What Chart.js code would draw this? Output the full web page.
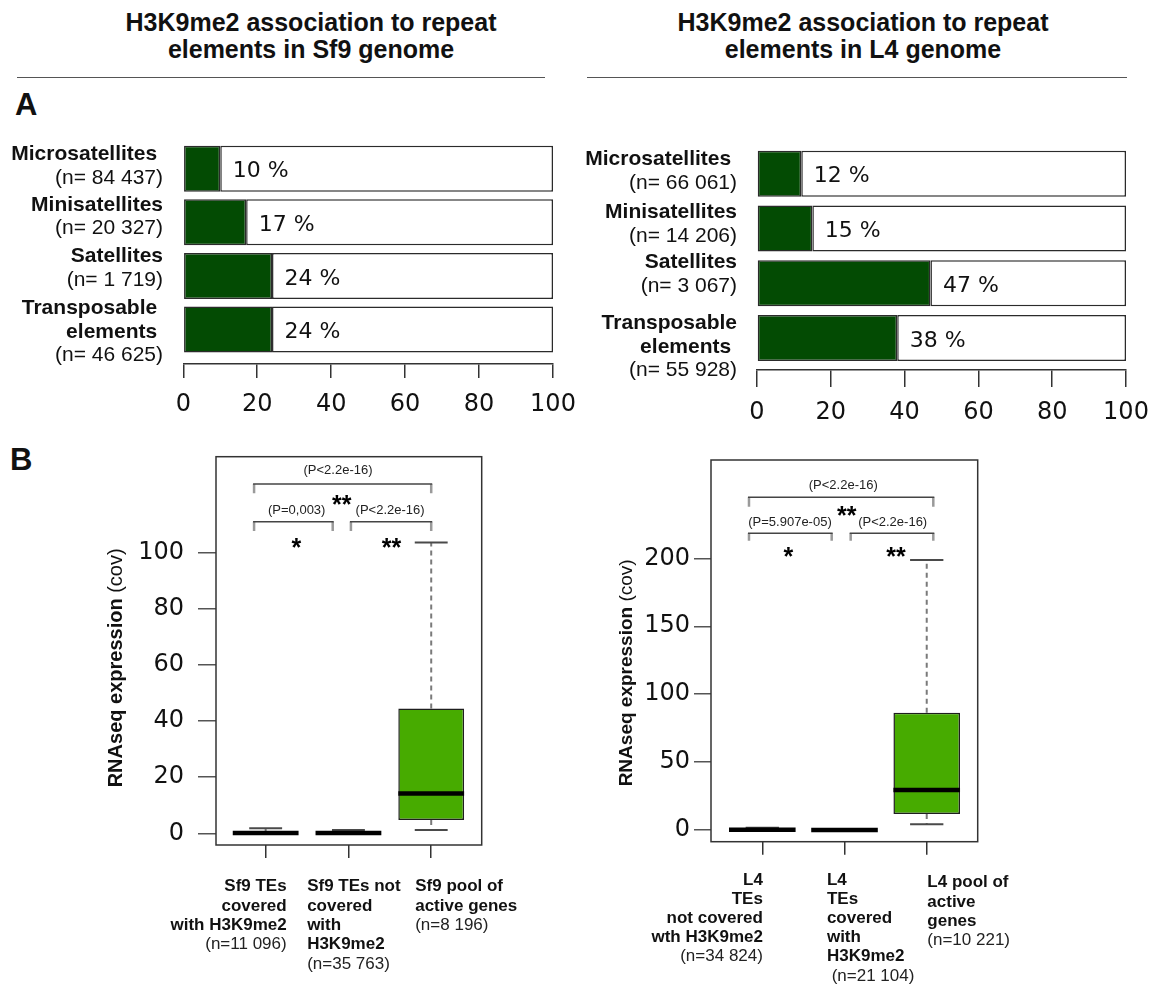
<!DOCTYPE html>
<html><head><meta charset="utf-8">
<script src="https://cdn.jsdelivr.net/npm/chart.js@4.4.0/dist/chart.umd.min.js"></script>
<style>
html,body{margin:0;padding:0;background:#fff;}
#page{position:relative;width:1150px;height:985px;overflow:hidden;font-family:"Liberation Sans",Arial,sans-serif;color:#111;}
canvas{position:absolute;}
.title{position:absolute;width:560px;font-weight:bold;font-size:25px;line-height:27px;text-align:center;}
.rule{position:absolute;height:0;border-top:1.5px solid #555;}
.panel{position:absolute;font-weight:bold;font-size:31px;line-height:31px;}
</style></head>
<body><div id="page">
<div class="title" style="left:31px;top:9px;">H3K9me2 association to repeat<br>elements in Sf9 genome</div>
<div class="title" style="left:583px;top:9px;">H3K9me2 association to repeat<br>elements in L4 genome</div>
<div class="rule" style="left:17px;top:77px;width:528px;"></div>
<div class="rule" style="left:587px;top:77px;width:540px;"></div>
<div class="panel" style="left:15px;top:89px;">A</div>
<div class="panel" style="left:10px;top:444px;">B</div>
<canvas id="cA1" width="575" height="355" style="left:0;top:85px;width:575px;height:355px;"></canvas>
<canvas id="cA2" width="575" height="355" style="left:575px;top:85px;width:575px;height:355px;"></canvas>
<canvas id="cB1" width="575" height="545" style="left:0;top:440px;width:575px;height:545px;"></canvas>
<canvas id="cB2" width="575" height="545" style="left:575px;top:440px;width:575px;height:545px;"></canvas>
</div>
<script>
// ---------- Panel A data ----------
const sf9NameLines = [['Microsatellites '], ['Minisatellites'], ['Satellites'], ['Transposable ', 'elements ']];
const sf9Counts = ['(n= 84 437)', '(n= 20 327)', '(n= 1 719)', '(n= 46 625)'];
const sf9Percent = [10, 17, 24, 24];
const l4NameLines = [['Microsatellites '], ['Minisatellites'], ['Satellites'], ['Transposable', 'elements ']];
const l4Counts = ['(n= 66 061)', '(n= 14 206)', '(n= 3 067)', '(n= 55 928)'];
const l4Percent = [12, 15, 47, 38];
const percentTicks = [0, 20, 40, 60, 80, 100];

// ---------- Panel B data ----------
const sf9BoxLines = [['Sf9 TEs', 'covered', 'with H3K9me2'], ['Sf9 TEs not', 'covered', 'with', 'H3K9me2'], ['Sf9 pool of', 'active genes']];
const sf9BoxCounts = ['(n=11 096)', '(n=35 763)', '(n=8 196)'];
const sf9Low = [0, 0, 1.2];
const sf9Q1 = [0, 0, 4.7];
const sf9Median = [0.1, 0.1, 14.2];
const sf9Q3 = [0.4, 0.3, 44.5];
const sf9High = [1.8, 1.2, 103.6];
const sf9ExprTicks = [0, 20, 40, 60, 80, 100];
const sf9PValues = ['(P<2.2e-16)', '(P=0,003)', '(P<2.2e-16)'];
const sf9Stars = ['**', '*', '**'];

const l4BoxLines = [['L4', 'TEs', 'not covered', 'wth H3K9me2'], ['L4', 'TEs', 'covered', 'with', 'H3K9me2'], ['L4 pool of', 'active', 'genes']];
const l4BoxCounts = ['(n=34 824)', ' (n=21 104)', '(n=10 221)'];
const l4Low = [0, 0, 4.2];
const l4Q1 = [0, 0, 11.8];
const l4Median = [0.2, 0.1, 29.5];
const l4Q3 = [0.6, 0.4, 86.4];
const l4High = [1.7, 0.8, 198.8];
const l4ExprTicks = [0, 50, 100, 150, 200];
const l4PValues = ['(P<2.2e-16)', '(P=5.907e-05)', '(P<2.2e-16)'];
const l4Stars = ['**', '*', '**'];

// ---------- styles / layout ----------
const BAR_GREEN = '#034b03';
const BOX_GREEN = '#47ab00';
const SANS = '"Liberation Sans", Arial, sans-serif';
const TICKFONT = 'DejaVu Sans';

function bracketLayoutSf9() {
  return [
    {x1: 0.86, x2: 3.0, y: 124.5, yEnd: 121.2, tx: 1.874, ty: 129.2, sx: 1.92, sy: 119.4},
    {x1: 0.86, x2: 1.81, y: 111.0, yEnd: 107.7, tx: 1.375, ty: 115.2, sx: 1.37, sy: 103.9},
    {x1: 2.03, x2: 3.0, y: 111.0, yEnd: 107.7, tx: 2.503, ty: 115.2, sx: 2.52, sy: 103.9}
  ];
}
function bracketLayoutL4() {
  return [
    {x1: 0.838, x2: 3.08, y: 244.9, yEnd: 238.0, tx: 1.985, ty: 254.0, sx: 2.027, sy: 235.6},
    {x1: 0.838, x2: 1.844, y: 218.4, yEnd: 213.0, tx: 1.337, ty: 226.2, sx: 1.316, sy: 206.1},
    {x1: 2.075, x2: 3.08, y: 218.4, yEnd: 213.0, tx: 2.586, ty: 226.2, sx: 2.627, sy: 206.1}
  ];
}
function noScalePadding(s) { s.paddingLeft = 0; s.paddingRight = 0; s.paddingTop = 0; s.paddingBottom = 0; }

// ---------- Panel A charts ----------
function makePercentChart(id, nameLines, counts, pct, L) {
  const rest = pct.map(v => 100 - v);
  const labelPlugin = {
    id: 'catLabels' + id,
    afterDraw(chart) {
      const ctx = chart.ctx, ys = chart.scales.y, xs = chart.scales.x, ca = chart.chartArea;
      ctx.save();
      ctx.fillStyle = '#111';
      ctx.textBaseline = 'middle';
      ctx.textAlign = 'right';
      nameLines.forEach((lines, i) => {
        const all = lines.concat([counts[i]]);
        const cy = ys.getPixelForValue(i) + L.labelShift[i];
        const y0 = cy - (all.length - 1) / 2 * L.lineH;
        all.forEach((t, k) => {
          ctx.font = (k < lines.length ? 'bold ' : '') + '21px ' + SANS;
          ctx.fillText(t, ca.left - L.labelGap, y0 + k * L.lineH);
        });
      });
      ctx.textAlign = 'left';
      ctx.font = '22px "' + TICKFONT + '"';
      pct.forEach((v, i) => {
        ctx.fillText(v + ' %', xs.getPixelForValue(v) + 12.5, ys.getPixelForValue(i) + 3);
      });
      ctx.restore();
    }
  };
  const common = {borderColor: '#2b2b2b', borderWidth: 1.5, borderSkipped: false, barPercentage: L.barPct, categoryPercentage: 1};
  new Chart(document.getElementById(id), {
    type: 'bar',
    data: {datasets: [
      Object.assign({data: pct.map((v, i) => ({x: v, y: i})), backgroundColor: BAR_GREEN}, common),
      Object.assign({data: rest.map((v, i) => ({x: v, y: i})), backgroundColor: '#ffffff'}, common)
    ]},
    options: {
      indexAxis: 'y', responsive: false, animation: false, devicePixelRatio: 1, events: [],
      layout: {padding: L.padding},
      plugins: {legend: {display: false}, tooltip: {enabled: false}},
      scales: {
        x: {
          type: 'linear', stacked: true, min: 0, max: 100, offset: false,
          afterBuildTicks: s => { s.ticks = percentTicks.map(v => ({value: v})); },
          afterFit: s => { s.height = 60; noScalePadding(s); },
          border: {display: true, color: '#333', width: 1.5},
          grid: {offset: false, drawOnChartArea: false, drawTicks: true, tickLength: L.tickLen, color: '#333', lineWidth: 1.5},
          ticks: {font: {family: TICKFONT, size: 24}, color: '#111', padding: L.tickPad, maxRotation: 0, autoSkip: false}
        },
        y: {
          type: 'linear', stacked: true, reverse: true, min: -0.5, max: L.yMax, offset: false,
          grid: {offset: false},
          afterBuildTicks: s => { s.ticks = nameLines.map((c, i) => ({value: i})); },
          afterFit: noScalePadding,
          display: false
        }
      }
    },
    plugins: [labelPlugin]
  });
}

makePercentChart('cA1', sf9NameLines, sf9Counts, sf9Percent, {
  padding: {left: 183.3, right: 22, top: 56.9, bottom: 16}, yMax: 3.644, barPct: 0.858,
  tickLen: 14, tickPad: 12, labelShift: [-2.7, -5.5, -7.5, 2.5], lineH: 23.6, labelGap: 20.3
});
makePercentChart('cA2', l4NameLines, l4Counts, l4Percent, {
  padding: {left: 182, right: 24, top: 61.3, bottom: 10}, yMax: 3.584, barPct: 0.84,
  tickLen: 17, tickPad: 11.6, labelShift: [-2.2, -4.5, -9, 9], lineH: 23.6, labelGap: 20
});

// ---------- Panel B charts ----------
function makeBoxChart(id, boxLines, boxCounts, low, q1, med, q3, high, ticks, pvals, stars, brackets, L) {
  const n = boxLines.length;
  const boxPlugin = {
    id: 'box' + id,
    beforeDatasetsDraw(chart) {
      const ctx = chart.ctx, xs = chart.scales.x, ys = chart.scales.y, ca = chart.chartArea;
      const meta = chart.getDatasetMeta(0);
      ctx.save();
      ctx.strokeStyle = '#333'; ctx.lineWidth = 1.5;
      ctx.strokeRect(ca.left, ca.top, ca.right - ca.left, ca.bottom - ca.top);
      for (let i = 0; i < n; i++) {
        const x = xs.getPixelForValue(i + 1);
        const w = meta.data[i].width;
        ctx.strokeStyle = '#7a7a7a'; ctx.lineWidth = 2; ctx.setLineDash([5, 4]);
        ctx.beginPath();
        ctx.moveTo(x, ys.getPixelForValue(q3[i])); ctx.lineTo(x, ys.getPixelForValue(high[i]));
        ctx.moveTo(x, ys.getPixelForValue(q1[i])); ctx.lineTo(x, ys.getPixelForValue(low[i]));
        ctx.stroke();
        ctx.setLineDash([]);
        ctx.strokeStyle = '#4a4a4a'; ctx.lineWidth = 2;
        ctx.beginPath();
        ctx.moveTo(x - w / 4, ys.getPixelForValue(high[i])); ctx.lineTo(x + w / 4, ys.getPixelForValue(high[i]));
        if (low[i] < q1[i]) {
          ctx.moveTo(x - w / 4, ys.getPixelForValue(low[i])); ctx.lineTo(x + w / 4, ys.getPixelForValue(low[i]));
        }
        ctx.stroke();
      }
      ctx.restore();
    },
    afterDatasetsDraw(chart) {
      const ctx = chart.ctx, xs = chart.scales.x, ys = chart.scales.y;
      const meta = chart.getDatasetMeta(0);
      ctx.save();
      ctx.strokeStyle = '#000'; ctx.lineWidth = 4.5;
      for (let i = 0; i < n; i++) {
        const x = xs.getPixelForValue(i + 1), w = meta.data[i].width;
        const y = ys.getPixelForValue(med[i]);
        ctx.beginPath(); ctx.moveTo(x - w / 2, y); ctx.lineTo(x + w / 2, y); ctx.stroke();
      }
      ctx.restore();
    },
    afterDraw(chart) {
      const ctx = chart.ctx, xs = chart.scales.x, ys = chart.scales.y, ca = chart.chartArea;
      ctx.save();
      brackets.forEach((b, k) => {
        const X1 = xs.getPixelForValue(b.x1), X2 = xs.getPixelForValue(b.x2);
        const Y = ys.getPixelForValue(b.y), YE = ys.getPixelForValue(b.yEnd);
        ctx.strokeStyle = '#9a9a9a'; ctx.lineWidth = 2.5;
        ctx.beginPath(); ctx.moveTo(X1, Y); ctx.lineTo(X1, YE); ctx.moveTo(X2, Y); ctx.lineTo(X2, YE); ctx.stroke();
        ctx.strokeStyle = '#444'; ctx.lineWidth = 1.5;
        ctx.beginPath(); ctx.moveTo(X1 - 1, Y); ctx.lineTo(X2 + 1, Y); ctx.stroke();
        ctx.fillStyle = '#222'; ctx.font = '13px ' + SANS; ctx.textAlign = 'center'; ctx.textBaseline = 'middle';
        ctx.fillText(pvals[k], xs.getPixelForValue(b.tx), ys.getPixelForValue(b.ty));
        ctx.fillStyle = '#000'; ctx.font = 'bold 25px ' + SANS; ctx.textBaseline = 'alphabetic';
        ctx.fillText(stars[k], xs.getPixelForValue(b.sx), ys.getPixelForValue(b.sy) + 14.5);
      });
      ctx.translate(ca.left - L.titleDx, (ca.top + ca.bottom) / 2 + L.titleDy);
      ctx.rotate(-Math.PI / 2);
      const fb = 'bold ' + L.titleSize + 'px ' + SANS, fn = L.titleSize + 'px ' + SANS;
      ctx.font = fb; const w1 = ctx.measureText('RNAseq expression ').width;
      ctx.font = fn; const w2 = ctx.measureText('(cov)').width;
      ctx.textAlign = 'left'; ctx.textBaseline = 'middle'; ctx.fillStyle = '#111';
      ctx.font = fb; ctx.fillText('RNAseq expression ', -(w1 + w2) / 2, 0);
      ctx.font = fn; ctx.fillText('(cov)', -(w1 + w2) / 2 + w1, 0);
      ctx.setTransform(1, 0, 0, 1, 0, 0);
      ctx.textBaseline = 'middle';
      boxLines.forEach((lines, i) => {
        const p = L.cat[i];
        const x = xs.getPixelForValue(i + 1) + p.dx;
        const all = lines.concat([boxCounts[i]]);
        ctx.textAlign = p.align;
        all.forEach((t, k) => {
          ctx.font = (k < lines.length ? 'bold ' : '') + '17px ' + SANS;
          ctx.fillStyle = k < lines.length ? '#111' : '#222';
          ctx.fillText(t, x, ca.bottom + p.dy + k * L.lineH);
        });
      });
      ctx.restore();
    }
  };
  new Chart(document.getElementById(id), {
    type: 'bar',
    data: {datasets: [{
      data: q1.map((v, i) => ({x: i + 1, y: [v, q3[i]]})),
      backgroundColor: BOX_GREEN, borderColor: '#1e1e1e', borderWidth: 1.5, borderSkipped: false,
      barPercentage: L.barPct, categoryPercentage: 1
    }]},
    options: {
      responsive: false, animation: false, devicePixelRatio: 1, events: [],
      layout: {padding: L.padding},
      plugins: {legend: {display: false}, tooltip: {enabled: false}},
      scales: {
        x: {
          type: 'linear', min: L.xMin, max: L.xMax, offset: false,
          afterBuildTicks: s => { s.ticks = boxLines.map((c, i) => ({value: i + 1})); },
          afterFit: s => { s.height = 20; noScalePadding(s); },
          border: {display: false},
          grid: {offset: false, drawOnChartArea: false, drawTicks: true, tickLength: 13, color: '#333', lineWidth: 1.5},
          ticks: {callback: () => '', autoSkip: false, maxRotation: 0}
        },
        y: {
          type: 'linear', min: L.yMin, max: L.yMax, offset: false,
          afterBuildTicks: s => { s.ticks = ticks.map(v => ({value: v})); },
          afterFit: s => { s.width = L.yWidth; noScalePadding(s); },
          border: {display: false},
          grid: {offset: false, drawOnChartArea: false, drawTicks: true, tickLength: L.yTickLen, color: '#555', lineWidth: 1.5},
          ticks: {font: {family: TICKFONT, size: 24}, color: '#111', padding: L.yTickPad, autoSkip: false}
        }
      }
    },
    plugins: [boxPlugin]
  });
}

makeBoxChart('cB1', sf9BoxLines, sf9BoxCounts, sf9Low, sf9Q1, sf9Median, sf9Q3, sf9High, sf9ExprTicks,
  sf9PValues, sf9Stars, bracketLayoutSf9(), {
    padding: {left: 0, right: 93.3, top: 16.7, bottom: 120}, yWidth: 216,
    xMin: 0.4, xMax: 3.61, yMin: -4.17, yMax: 134.2, barPct: 0.795,
    yTickLen: 18, yTickPad: 14, titleDx: 99.3, titleDy: 17, titleSize: 20, lineH: 19.3,
    cat: [{align: 'right', dx: 21, dy: 41.7}, {align: 'left', dx: -41.3, dy: 41.7}, {align: 'left', dx: -16, dy: 41.7}]
  });
makeBoxChart('cB2', l4BoxLines, l4BoxCounts, l4Low, l4Q1, l4Median, l4Q3, l4High, l4ExprTicks,
  l4PValues, l4Stars, bracketLayoutL4(), {
    padding: {left: 0, right: 172.3, top: 20, bottom: 123.3}, yWidth: 136,
    xMin: 0.376, xMax: 3.62, yMin: -8.6, yMax: 272.4, barPct: 0.81,
    yTickLen: 17, yTickPad: 4, titleDx: 84.3, titleDy: 22, titleSize: 19, lineH: 19.2,
    cat: [{align: 'right', dx: 0.6, dy: 38.3}, {align: 'left', dx: -17.6, dy: 38.3}, {align: 'left', dx: 0.6, dy: 41}]
  });
</script>
</body></html>
